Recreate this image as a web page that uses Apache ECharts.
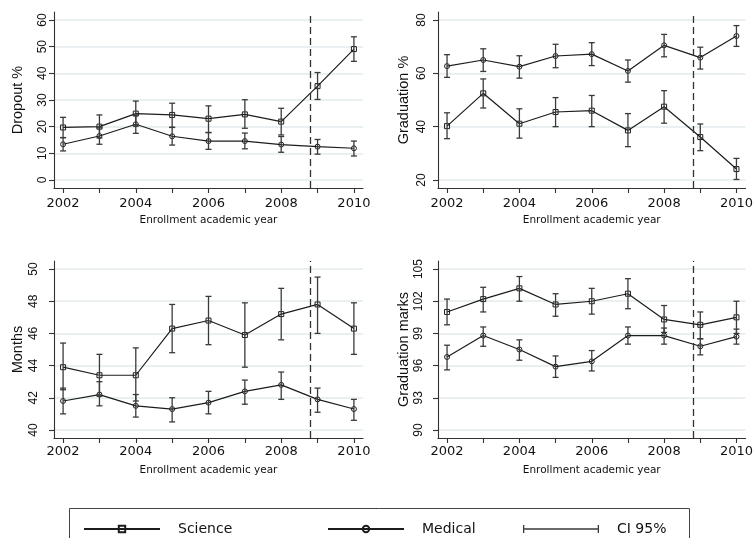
<!DOCTYPE html>
<html>
<head>
<meta charset="utf-8">
<script src="https://cdn.jsdelivr.net/npm/echarts@6/dist/echarts.min.js"></script>
<style>
  html, body { margin: 0; padding: 0; background: #fff; }
  #chart { width: 756px; height: 538px; }
</style>
</head>
<body>
<div id="chart"></div>
<script>
// Enrollment cohorts on the x axis
const years = [2002, 2003, 2004, 2005, 2006, 2007, 2008, 2009, 2010];
const yearLabels = [2002, 2004, 2006, 2008, 2010];
const cutoffYear = 2008.8;

// Dropout %
const dropoutTicks = [0, 10, 20, 30, 40, 50, 60];
const dropoutScience = [19.7, 20.0, 24.9, 24.4, 23.0, 24.6, 21.9, 35.2, 49.1];
const dropoutScienceLo = [15.9, 15.8, 20.2, 19.8, 17.8, 19.4, 16.9, 30.2, 44.5];
const dropoutScienceHi = [23.5, 24.4, 29.6, 28.8, 27.8, 30.1, 26.9, 40.3, 53.7];
const dropoutMedical = [13.4, 16.5, 20.9, 16.4, 14.6, 14.6, 13.3, 12.5, 11.9];
const dropoutMedicalLo = [10.9, 13.4, 17.5, 13.1, 11.5, 11.7, 10.4, 9.7, 9.0];
const dropoutMedicalHi = [15.9, 19.6, 24.3, 19.7, 17.8, 17.6, 16.3, 15.2, 14.6];

// Graduation %
const gradTicks = [20, 40, 60, 80];
const gradScience = [40.2, 52.5, 41.1, 45.5, 46.0, 38.6, 47.5, 36.1, 24.1];
const gradScienceLo = [35.5, 47.0, 35.7, 40.0, 40.0, 32.5, 41.3, 31.0, 20.2];
const gradScienceHi = [45.2, 57.9, 46.7, 50.9, 51.7, 44.9, 53.5, 41.0, 28.1];
const gradMedical = [62.7, 65.0, 62.5, 66.5, 67.2, 60.9, 70.5, 65.9, 74.0];
const gradMedicalLo = [58.5, 60.7, 58.2, 62.1, 62.9, 56.7, 66.2, 61.6, 70.1];
const gradMedicalHi = [67.0, 69.2, 66.6, 70.9, 71.5, 65.0, 74.6, 69.8, 77.9];

// Months to graduation
const monthsTicks = [40, 42, 44, 46, 48, 50];
const monthsScience = [43.9, 43.4, 43.4, 46.3, 46.8, 45.9, 47.2, 47.8, 46.3];
const monthsScienceLo = [42.5, 42.1, 41.8, 44.8, 45.3, 43.9, 45.6, 46.0, 44.7];
const monthsScienceHi = [45.4, 44.7, 45.1, 47.8, 48.3, 47.9, 48.8, 49.5, 47.9];
const monthsMedical = [41.8, 42.2, 41.5, 41.3, 41.7, 42.4, 42.8, 41.9, 41.3];
const monthsMedicalLo = [41.0, 41.5, 40.8, 40.5, 41.0, 41.6, 41.9, 41.1, 40.6];
const monthsMedicalHi = [42.6, 43.0, 42.2, 42.0, 42.4, 43.1, 43.6, 42.6, 41.9];

// Graduation marks
const marksTicks = [90, 93, 96, 99, 102, 105];
const marksScience = [101.0, 102.2, 103.2, 101.7, 102.0, 102.7, 100.3, 99.8, 100.5];
const marksScienceLo = [99.8, 101.0, 102.0, 100.6, 100.8, 101.3, 99.1, 98.5, 99.0];
const marksScienceHi = [102.2, 103.3, 104.3, 102.7, 103.2, 104.1, 101.6, 101.0, 102.0];
const marksMedical = [96.8, 98.8, 97.5, 95.9, 96.4, 98.8, 98.8, 97.8, 98.7];
const marksMedicalLo = [95.6, 97.8, 96.5, 94.9, 95.5, 98.0, 98.0, 97.0, 98.0];
const marksMedicalHi = [97.9, 99.6, 98.4, 96.9, 97.4, 99.6, 99.5, 98.5, 99.4];

const panels = [
  { title: 'Dropout %', ticks: dropoutTicks,
    sci: dropoutScience, sciLo: dropoutScienceLo, sciHi: dropoutScienceHi,
    med: dropoutMedical, medLo: dropoutMedicalLo, medHi: dropoutMedicalHi,
    box: { left: 54, top: 12, width: 309, height: 176 }, labelMargin: 5, nameGap: 29, xMargin: 9 },
  { title: 'Graduation %', ticks: gradTicks,
    sci: gradScience, sciLo: gradScienceLo, sciHi: gradScienceHi,
    med: gradMedical, medLo: gradMedicalLo, medHi: gradMedicalHi,
    box: { left: 438, top: 12, width: 309, height: 176 }, labelMargin: 10, nameGap: 27, xMargin: 9 },
  { title: 'Months', ticks: monthsTicks,
    sci: monthsScience, sciLo: monthsScienceLo, sciHi: monthsScienceHi,
    med: monthsMedical, medLo: monthsMedicalLo, medHi: monthsMedicalHi,
    box: { left: 54, top: 261, width: 309, height: 177 }, labelMargin: 14, nameGap: 29, xMargin: 7 },
  { title: 'Graduation marks', ticks: marksTicks,
    sci: marksScience, sciLo: marksScienceLo, sciHi: marksScienceHi,
    med: marksMedical, medLo: marksMedicalLo, medHi: marksMedicalHi,
    box: { left: 438, top: 261, width: 309, height: 177 }, labelMargin: 13, nameGap: 27, xMargin: 7 }
];

const AXIS_COLOR = '#333';
const LINE_COLOR = '#1c1c1c';
const BAR_COLOR = '#3a3a3a';
const GRID_COLOR = '#e3ebec';

// Vertical confidence-interval whisker with end caps
function renderErrorBar(params, api) {
  const x = api.value(0);
  const lo = api.coord([x, api.value(1)]);
  const hi = api.coord([x, api.value(2)]);
  const half = 3;
  const style = { stroke: BAR_COLOR, lineWidth: 1.3, fill: null };
  return {
    type: 'group',
    children: [
      { type: 'line', shape: { x1: lo[0], y1: lo[1], x2: hi[0], y2: hi[1] }, style },
      { type: 'line', shape: { x1: lo[0] - half, y1: lo[1], x2: lo[0] + half, y2: lo[1] }, style },
      { type: 'line', shape: { x1: hi[0] - half, y1: hi[1], x2: hi[0] + half, y2: hi[1] }, style }
    ]
  };
}

const grids = [], xAxes = [], yAxes = [], series = [];

panels.forEach((p, i) => {
  const span = p.ticks[p.ticks.length - 1] - p.ticks[0];
  grids.push(Object.assign({ containLabel: false }, p.box));
  xAxes.push({
    type: 'value', gridIndex: i, min: 2001.75, max: 2010.25,
    axisLine: { show: true, onZero: false, lineStyle: { color: AXIS_COLOR, width: 1.1 } },
    axisTick: { show: true, customValues: years, length: 5, lineStyle: { color: AXIS_COLOR, width: 1.1 } },
    axisLabel: { customValues: yearLabels, formatter: v => String(v), margin: p.xMargin,
      fontFamily: 'DejaVu Sans', fontSize: 13, color: '#111' },
    splitLine: { show: false },
    name: 'Enrollment academic year', nameLocation: 'middle', nameGap: 27,
    nameTextStyle: { fontFamily: 'DejaVu Sans', fontSize: 10.5, color: '#111' }
  });
  yAxes.push({
    type: 'value', gridIndex: i,
    min: p.ticks[0] - 0.05 * span, max: p.ticks[p.ticks.length - 1] + 0.05 * span,
    axisLine: { show: true, lineStyle: { color: AXIS_COLOR, width: 1.1 } },
    axisTick: { show: true, customValues: p.ticks, length: 5, lineStyle: { color: AXIS_COLOR, width: 1.1 } },
    axisLabel: { customValues: p.ticks, rotate: 90, margin: p.labelMargin, formatter: v => String(v),
      fontFamily: 'Liberation Sans', fontSize: 12, color: '#111' },
    splitLine: { show: true, lineStyle: { color: GRID_COLOR, width: 1.5 } },
    name: p.title, nameLocation: 'middle', nameGap: p.nameGap,
    nameTextStyle: { fontFamily: 'Liberation Sans', fontSize: 14.5, color: '#111' }
  });

  const pts = arr => years.map((y, k) => [y, arr[k]]);
  const bars = (lo, hi) => years.map((y, k) => [y, lo[k], hi[k]]);

  series.push({
    type: 'line', name: 'Science', xAxisIndex: i, yAxisIndex: i, data: pts(p.sci),
    symbol: 'rect', symbolSize: 5, z: 3,
    itemStyle: { color: 'rgba(0,0,0,0)', borderColor: LINE_COLOR, borderWidth: 1 },
    lineStyle: { color: LINE_COLOR, width: 1.2 },
    markLine: {
      silent: true, symbol: ['none', 'none'], label: { show: false },
      lineStyle: { color: AXIS_COLOR, type: [7, 4], width: 1.3 },
      data: [{ xAxis: cutoffYear }]
    }
  });
  series.push({
    type: 'line', name: 'Medical', xAxisIndex: i, yAxisIndex: i, data: pts(p.med),
    symbol: 'circle', symbolSize: 5, z: 3,
    itemStyle: { color: 'rgba(0,0,0,0)', borderColor: LINE_COLOR, borderWidth: 1 },
    lineStyle: { color: LINE_COLOR, width: 1.2 }
  });
  [[p.sciLo, p.sciHi], [p.medLo, p.medHi]].forEach(([lo, hi]) => {
    series.push({
      type: 'custom', name: 'CI 95%', xAxisIndex: i, yAxisIndex: i,
      data: bars(lo, hi), encode: { x: 0, y: [1, 2] },
      renderItem: renderErrorBar, z: 4, itemStyle: { color: BAR_COLOR }
    });
  });
});

// One legend entry per key, laid out in columns inside a shared frame
const legendBase = {
  top: 522, padding: 0, itemGap: 0, itemWidth: 76, itemHeight: 8,
  selectedMode: false, z: 10,
  textStyle: { fontFamily: 'DejaVu Sans', fontSize: 14, color: '#111', padding: [0, 0, 0, 13] }
};
const legends = [
  Object.assign({}, legendBase, { left: 83, data: ['Science'] }),
  Object.assign({}, legendBase, { left: 327, data: ['Medical'] }),
  Object.assign({}, legendBase, { left: 523, data: [{
    name: 'CI 95%',
    icon: 'path://M0,0h1.3v8h-1.3z M0,3.35h76v1.3h-76z M74.7,0h1.3v8h-1.3z',
    itemStyle: { color: BAR_COLOR, borderWidth: 0 }
  }] })
];

const chart = echarts.init(document.getElementById('chart'), null, { renderer: 'canvas' });
chart.setOption({
  animation: false,
  backgroundColor: '#fff',
  grid: grids,
  xAxis: xAxes,
  yAxis: yAxes,
  legend: legends,
  graphic: [{
    type: 'rect', z: 1, silent: true,
    shape: { x: 69.5, y: 508.5, width: 620, height: 60 },
    style: { fill: '#fff', stroke: '#444', lineWidth: 1 }
  }],
  series: series
});
</script>
</body>
</html>
